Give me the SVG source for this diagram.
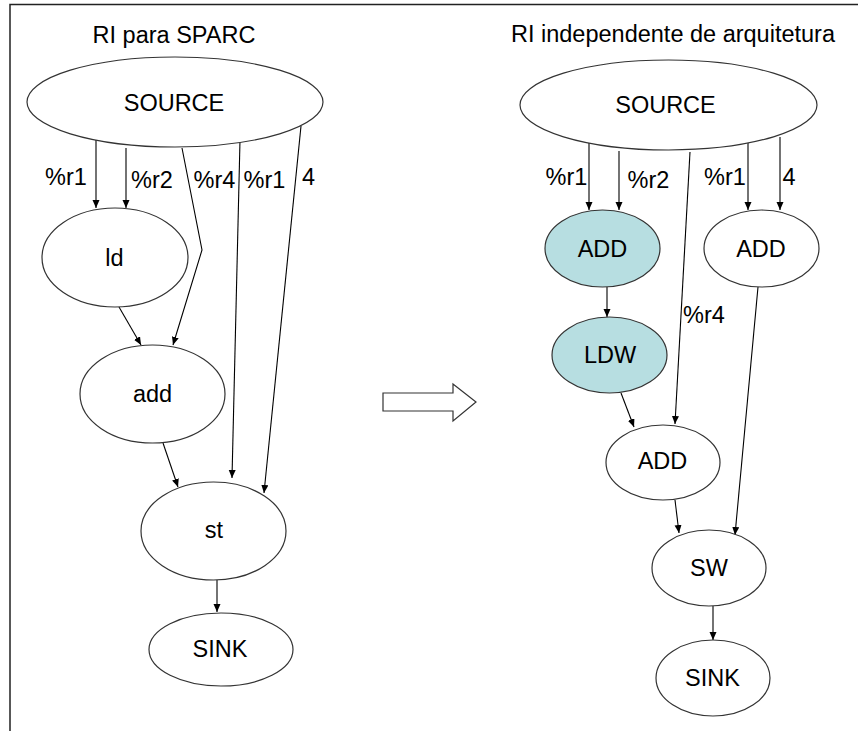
<svg xmlns="http://www.w3.org/2000/svg" width="858" height="731" viewBox="0 0 858 731">
<defs>
<marker id="ah" markerUnits="userSpaceOnUse" markerWidth="9" markerHeight="8" refX="8" refY="3.5" orient="auto">
<path d="M0,0 L8,3.5 L0,7 z" fill="#000"/>
</marker>
<style>
text{font-family:"Liberation Sans",Arial,sans-serif;font-size:23.5px;fill:#000}
.n ellipse{fill:#fff;stroke:#333;stroke-width:1.2}
.n.hl ellipse{fill:#b7dee1}
.n text{text-anchor:middle}
.lbl{text-anchor:middle}
#edges line,#edges polyline{stroke:#000;stroke-width:1.1;fill:none;marker-end:url(#ah)}
</style>
</defs>
<rect width="858" height="731" fill="#fff"/>
<path d="M10,731 L10,4.5 L858,4.5" fill="none" stroke="#222" stroke-width="1.5"/>
<text x="174" y="43" text-anchor="middle">RI para SPARC</text>
<text x="673" y="42" text-anchor="middle">RI independente de arquitetura</text>
<polygon points="383,393 453,393 453,384 476,402 453,421 453,411 383,411" fill="#fff" stroke="#333" stroke-width="1.2"/>
<g id="edges">
<line x1="96" y1="140" x2="96" y2="208"/>
<line x1="126" y1="148" x2="126" y2="208"/>
<polyline points="182,148 202,250 173,345"/>
<line x1="240" y1="140" x2="232" y2="478"/>
<line x1="301" y1="126" x2="264" y2="493"/>
<line x1="119" y1="307" x2="141" y2="345"/>
<line x1="163" y1="443" x2="178" y2="487"/>
<line x1="217" y1="580" x2="217" y2="612"/>
<line x1="589" y1="143" x2="589" y2="210"/>
<line x1="619" y1="151" x2="619" y2="210"/>
<line x1="748" y1="143" x2="748" y2="210"/>
<line x1="780" y1="137" x2="780" y2="210"/>
<line x1="690" y1="152" x2="675" y2="424"/>
<line x1="607" y1="287" x2="607" y2="317"/>
<line x1="621" y1="393" x2="634" y2="427"/>
<line x1="758" y1="287" x2="735" y2="535"/>
<line x1="675" y1="500" x2="679" y2="533"/>
<line x1="713" y1="606" x2="713" y2="640"/>
</g>
<g id="labels">
<text class="lbl" x="66" y="185">%r1</text>
<text class="lbl" x="152" y="188">%r2</text>
<text class="lbl" x="214.5" y="188">%r4</text>
<text class="lbl" x="264.5" y="188">%r1</text>
<text class="lbl" x="308.5" y="185">4</text>
<text class="lbl" x="566.5" y="185">%r1</text>
<text class="lbl" x="648.5" y="188">%r2</text>
<text class="lbl" x="725" y="185">%r1</text>
<text class="lbl" x="789" y="185">4</text>
<text class="lbl" x="704" y="323">%r4</text>
</g>
<g id="source-l" class="n"><ellipse cx="175" cy="102" rx="148" ry="45"/><text x="174" y="111">SOURCE</text></g>
<g id="ld" class="n"><ellipse cx="115" cy="257.5" rx="73" ry="49.5"/><text x="114.5" y="266">ld</text></g>
<g id="add" class="n"><ellipse cx="152.5" cy="394" rx="72.5" ry="49"/><text x="152.5" y="402">add</text></g>
<g id="st" class="n"><ellipse cx="213.5" cy="531" rx="72.5" ry="49"/><text x="214" y="538">st</text></g>
<g id="sink-l" class="n"><ellipse cx="221" cy="649.5" rx="72" ry="36.5"/><text x="220" y="657">SINK</text></g>
<g id="source-r" class="n"><ellipse cx="668.5" cy="105" rx="148.5" ry="45"/><text x="665.5" y="113">SOURCE</text></g>
<g id="add1" class="n hl"><ellipse cx="602.5" cy="248.5" rx="57.5" ry="38.5"/><text x="602.5" y="257">ADD</text></g>
<g id="add2" class="n"><ellipse cx="761.5" cy="248.5" rx="57.5" ry="38.5"/><text x="761" y="257">ADD</text></g>
<g id="ldw" class="n hl"><ellipse cx="609.5" cy="355" rx="57.5" ry="38"/><text x="610" y="363">LDW</text></g>
<g id="add3" class="n"><ellipse cx="663" cy="462.5" rx="57" ry="37.5"/><text x="662.5" y="469">ADD</text></g>
<g id="sw" class="n"><ellipse cx="709" cy="568" rx="57" ry="38"/><text x="709" y="576">SW</text></g>
<g id="sink-r" class="n"><ellipse cx="713" cy="678" rx="57" ry="38"/><text x="712.5" y="686">SINK</text></g>
</svg>
